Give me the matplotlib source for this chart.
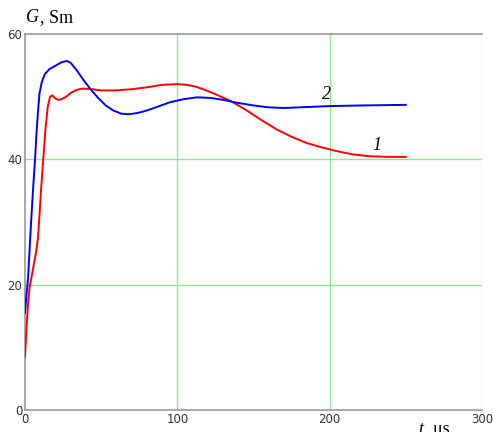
import matplotlib
matplotlib.use('Agg')
import matplotlib.pyplot as plt

# curve 2 (blue)
t2 = [0, 1, 2, 4, 5.5, 6.6, 7.5, 8.5, 9.5, 11, 13, 16, 19.7, 24, 27.5, 30, 34, 38,
      43, 48, 53, 58, 63, 68, 74, 80, 87, 95, 104, 113, 122, 130, 140, 150, 160,
      170, 180, 190, 200, 220, 250]
g2 = [15.5, 18.5, 21, 30, 36, 40, 44, 47.5, 50.5, 52.3, 53.6, 54.4, 54.9, 55.5, 55.7,
      55.4, 54.2, 52.8, 51.2, 49.8, 48.6, 47.8, 47.3, 47.2, 47.4, 47.8, 48.4, 49.1,
      49.6, 49.9, 49.8, 49.5, 49.0, 48.6, 48.3, 48.2, 48.3, 48.4, 48.5, 48.6, 48.7]

# curve 1 (red)
t1 = [0, 1, 2, 3, 4.5, 6, 7.5, 8.5, 9.5, 10.5, 12, 13.5, 15, 16.5, 18, 20, 22, 24,
      27, 30, 34, 38, 44, 50, 60, 70, 80, 90, 100, 106, 112, 118, 125, 135, 145,
      155, 165, 175, 185, 195, 205, 215, 226, 238, 250]
g1 = [8.5, 13, 17, 19.5, 21.5, 23.5, 25.5, 27.5, 31, 35, 40, 45, 48.5, 50, 50.2,
      49.7, 49.5, 49.6, 50, 50.6, 51.1, 51.3, 51.2, 51, 51, 51.2, 51.5, 51.9, 52,
      51.9, 51.6, 51.1, 50.4, 49.3, 47.9, 46.3, 44.8, 43.6, 42.6, 41.9, 41.3, 40.8,
      40.5, 40.4, 40.4]

xticks = [0, 100, 200, 300]
yticks = [0, 20, 40, 60]

fig = plt.figure(figsize=(4.93, 4.32), dpi=100)
ax = fig.add_axes([0.0507, 0.0509, 0.9270, 0.8703])

grid_c = '#90e890'
for x in xticks[1:]:
    ax.axvline(x, color=grid_c, lw=1.0, zorder=1)
for y in yticks[1:3]:
    ax.axhline(y, color=grid_c, lw=1.0, zorder=1)

ax.plot(t1, g1, color='#ff0000', lw=1.4, zorder=3)
ax.plot(t2, g2, color='#0000ff', lw=1.4, zorder=3)

ax.set_xlim(0, 300)
ax.set_ylim(0, 60)
ax.set_xticks(xticks)
ax.set_yticks(yticks)
ax.tick_params(length=0, labelsize=8.5, colors='#333333', pad=2)
for s in ['left', 'bottom', 'top']:
    ax.spines[s].set_color('#999999')
    ax.spines[s].set_linewidth(1.2)
ax.spines['right'].set_visible(False)

serif = 'Liberation Serif'
ax.text(195, 49.7, '2', fontsize=13, family=serif, style='italic')
ax.text(228, 41.5, '1', fontsize=13, family=serif, style='italic')

fig.text(0.053, 0.948, 'G', fontsize=13, family=serif, style='italic')
fig.text(0.082, 0.948, ', Sm', fontsize=13, family=serif)
fig.text(0.848, -0.005, 't', fontsize=13, family=serif, style='italic')
fig.text(0.860, -0.005, ', μs', fontsize=13, family=serif)

fig.savefig('out.png', dpi=100)
